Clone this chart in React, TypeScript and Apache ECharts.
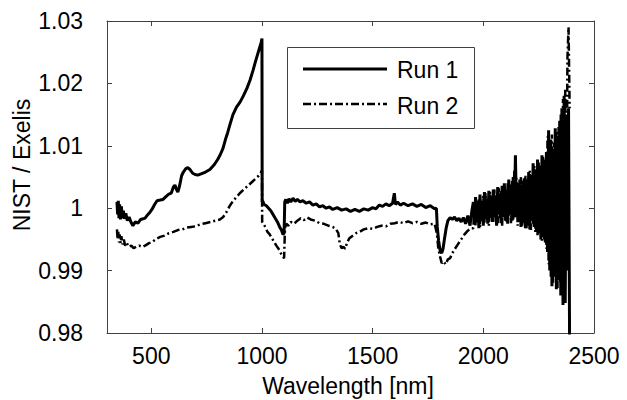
import React, { useEffect, useRef } from "react";
import * as echarts from "echarts";

// Wavelength [nm] vs NIST / Exelis ratio
const xTicks = [500, 1000, 1500, 2000, 2500];
const yTicks = [0.98, 0.99, 1.0, 1.01, 1.02, 1.03];

const run1Vnir: [number, number][] = [
  [345, 1.0010], [348, 0.9990], [351, 1.0012], [354, 0.9984], [357, 1.0006], [361, 0.9982],
  [365, 1.0003], [369, 0.9984], [374, 0.9996], [379, 0.9983], [385, 0.9992], [392, 0.9980],
  [400, 0.9986], [408, 0.9978], [417, 0.9972], [428, 0.9978], [440, 0.9976], [452, 0.9982],
  [463, 0.9983], [472, 0.9984], [485, 0.9990], [495, 0.9994], [503, 0.9998], [515, 1.0006],
  [526, 1.0012], [540, 1.0013], [553, 1.0014], [565, 1.0018], [577, 1.0022], [590, 1.0024],
  [600, 1.0034], [607, 1.0037], [614, 1.0030], [620, 1.0026], [628, 1.0036], [637, 1.0052],
  [645, 1.0058], [655, 1.0063], [665, 1.0065], [675, 1.0062], [687, 1.0056], [698, 1.0054],
  [710, 1.0053], [725, 1.0055], [745, 1.0058], [765, 1.0062], [785, 1.0070], [800, 1.0078],
  [812, 1.0086], [824, 1.0096], [835, 1.0110], [845, 1.0121], [857, 1.0136], [869, 1.0150],
  [885, 1.0162], [901, 1.0170], [916, 1.0180], [932, 1.0192], [946, 1.0205], [959, 1.0220],
  [970, 1.0234], [980, 1.0246], [990, 1.0258], [997, 1.0266], [1000, 1.0272],
];

const run1Swir1: [number, number][] = [
  [1001, 1.0010], [1003, 1.0012], [1010, 1.0006], [1020, 1.0004], [1030, 1.0000], [1040, 0.9996],
  [1050, 0.9990], [1060, 0.9984], [1070, 0.9978], [1080, 0.9970], [1088, 0.9965], [1095, 0.9958],
  [1100, 0.9960], [1103, 1.0010], [1108, 1.0014], [1115, 1.0008], [1122, 1.0015], [1130, 1.0010],
  [1140, 1.0016], [1150, 1.0011], [1160, 1.0014], [1172, 1.0010], [1185, 1.0012], [1200, 1.0008],
  [1215, 1.0010], [1230, 1.0005], [1245, 1.0007], [1260, 1.0002], [1275, 1.0004], [1290, 1.0000],
  [1305, 1.0002], [1320, 0.9998], [1340, 1.0001], [1360, 0.9997], [1380, 0.9999], [1400, 0.9995],
  [1420, 0.9998], [1440, 0.9995], [1460, 0.9999], [1480, 0.9997], [1500, 1.0001], [1515, 0.9999],
  [1530, 1.0005], [1545, 1.0003], [1560, 1.0007], [1575, 1.0004], [1590, 1.0008], [1598, 1.0024],
  [1603, 1.0006], [1612, 1.0010], [1625, 1.0005], [1640, 1.0008], [1660, 1.0004], [1680, 1.0007],
  [1700, 1.0003], [1720, 1.0006], [1740, 1.0001], [1760, 1.0004], [1780, 0.9999], [1788, 1.0000],
  [1792, 0.9970], [1798, 0.9948], [1805, 0.9932], [1812, 0.9928], [1818, 0.9935], [1825, 0.9952],
  [1832, 0.9968], [1840, 0.9980], [1850, 0.9985], [1860, 0.9982], [1870, 0.9986], [1880, 0.9980],
  [1890, 0.9984], [1900, 0.9978], [1910, 0.9985], [1920, 0.9975], [1930, 0.9988], [1940, 0.9972],
  [1948, 0.9995],
];

const run1Swir2: [number, number][] = [
  [1955, 1.0010], [1960, 0.9975], [1965, 1.0018], [1970, 0.9982], [1975, 1.0008], [1980, 0.9968],
  [1985, 1.0022], [1990, 0.9985], [1995, 1.0012], [2000, 0.9972], [2005, 1.0026], [2010, 0.9990],
  [2015, 1.0015], [2020, 0.9975], [2025, 1.0028], [2030, 0.9992], [2035, 1.0020], [2040, 0.9978],
  [2045, 1.0030], [2050, 0.9985], [2055, 1.0018], [2060, 0.9972], [2065, 1.0034], [2070, 0.9990],
  [2075, 1.0024], [2080, 0.9976], [2085, 1.0036], [2090, 0.9988], [2095, 1.0040], [2100, 0.9980],
  [2105, 1.0030], [2110, 0.9975], [2115, 1.0046], [2120, 0.9992], [2125, 1.0038], [2130, 0.9980],
  [2135, 1.0050], [2140, 0.9985], [2145, 1.0085], [2150, 0.9990], [2155, 1.0040], [2160, 0.9978],
  [2165, 1.0046], [2170, 0.9970], [2175, 1.0038], [2180, 0.9982], [2185, 1.0048], [2190, 0.9968],
  [2195, 1.0042], [2200, 0.9975], [2205, 1.0058], [2210, 0.9966], [2215, 1.0050], [2220, 0.9980],
  [2225, 1.0072], [2230, 0.9970], [2235, 1.0060], [2240, 0.9965], [2245, 1.0078], [2250, 0.9960],
  [2255, 1.0062], [2260, 0.9950], [2265, 1.0085], [2270, 0.9958], [2275, 1.0070], [2280, 0.9945],
  [2285, 1.0090], [2290, 0.9930], [2295, 1.0125], [2300, 0.9900], [2305, 1.0110], [2310, 0.9875],
  [2315, 1.0095], [2320, 0.9890], [2325, 1.0128], [2330, 0.9870], [2335, 1.0115], [2340, 0.9885],
  [2345, 1.0140], [2350, 0.9860], [2355, 1.0160], [2360, 0.9845], [2365, 1.0180], [2370, 0.9848],
  [2375, 1.0150], [2380, 0.9900], [2385, 1.0160], [2390, 0.9760],
];

const run2Vnir: [number, number][] = [
  [345, 0.9966], [348, 0.9950], [351, 0.9962], [354, 0.9945], [357, 0.9958], [361, 0.9944],
  [365, 0.9955], [370, 0.9942], [376, 0.9950], [382, 0.9940], [390, 0.9944], [398, 0.9938],
  [410, 0.9940], [420, 0.9936], [432, 0.9938], [445, 0.9940], [460, 0.9938], [472, 0.9940],
  [490, 0.9944], [505, 0.9946], [520, 0.9950], [540, 0.9954], [560, 0.9956], [580, 0.9960],
  [600, 0.9962], [620, 0.9965], [640, 0.9966], [660, 0.9969], [680, 0.9970], [700, 0.9971],
  [720, 0.9974], [745, 0.9976], [770, 0.9978], [790, 0.9980], [810, 0.9982], [825, 0.9986],
  [840, 0.9994], [855, 1.0004], [870, 1.0012], [885, 1.0018], [900, 1.0024], [918, 1.0030],
  [937, 1.0036], [955, 1.0042], [970, 1.0047], [985, 1.0052], [995, 1.0057], [1000, 1.0061],
];

const run2Swir1: [number, number][] = [
  [1001, 0.9978], [1008, 0.9974], [1015, 0.9970], [1025, 0.9962], [1035, 0.9958], [1045, 0.9952],
  [1055, 0.9946], [1065, 0.9940], [1075, 0.9935], [1085, 0.9928], [1095, 0.9922], [1100, 0.9920],
  [1104, 0.9968], [1110, 0.9975], [1120, 0.9972], [1130, 0.9978], [1145, 0.9975], [1160, 0.9980],
  [1175, 0.9984], [1190, 0.9981], [1205, 0.9985], [1220, 0.9982], [1240, 0.9980], [1260, 0.9976],
  [1280, 0.9975], [1300, 0.9972], [1320, 0.9970], [1335, 0.9966], [1345, 0.9960], [1352, 0.9942],
  [1360, 0.9936], [1368, 0.9938], [1376, 0.9935], [1385, 0.9945], [1395, 0.9952], [1410, 0.9956],
  [1425, 0.9960], [1440, 0.9962], [1460, 0.9966], [1480, 0.9968], [1500, 0.9967], [1520, 0.9970],
  [1540, 0.9972], [1560, 0.9971], [1580, 0.9975], [1600, 0.9976], [1620, 0.9978], [1640, 0.9976],
  [1660, 0.9979], [1680, 0.9976], [1700, 0.9978], [1720, 0.9975], [1740, 0.9977], [1760, 0.9974],
  [1780, 0.9975], [1790, 0.9960], [1797, 0.9935], [1805, 0.9922], [1812, 0.9912], [1820, 0.9915],
  [1830, 0.9910], [1840, 0.9918], [1850, 0.9920], [1860, 0.9928], [1870, 0.9934], [1885, 0.9942],
  [1900, 0.9950], [1915, 0.9958], [1930, 0.9964], [1945, 0.9968],
];

const run2Swir2: [number, number][] = [
  [1955, 0.9968], [1960, 1.0005], [1965, 0.9972], [1970, 1.0012], [1975, 0.9978], [1980, 1.0016],
  [1985, 0.9970], [1990, 1.0008], [1995, 0.9980], [2000, 1.0020], [2005, 0.9975], [2010, 1.0024],
  [2015, 0.9982], [2020, 1.0010], [2025, 0.9972], [2030, 1.0026], [2035, 0.9985], [2040, 1.0018],
  [2045, 0.9978], [2050, 1.0030], [2055, 0.9988], [2060, 1.0022], [2065, 0.9976], [2070, 1.0032],
  [2075, 0.9984], [2080, 1.0028], [2085, 0.9972], [2090, 1.0036], [2095, 0.9985], [2100, 1.0026],
  [2105, 0.9978], [2110, 1.0040], [2115, 0.9988], [2120, 1.0032], [2125, 0.9976], [2130, 1.0044],
  [2135, 0.9982], [2140, 1.0060], [2145, 0.9986], [2150, 1.0048], [2155, 0.9972], [2160, 1.0040],
  [2165, 0.9980], [2170, 1.0050], [2175, 0.9970], [2180, 1.0044], [2185, 0.9976], [2190, 1.0052],
  [2195, 0.9968], [2200, 1.0046], [2205, 0.9972], [2210, 1.0060], [2215, 0.9965], [2220, 1.0055],
  [2225, 0.9975], [2230, 1.0068], [2235, 0.9962], [2240, 1.0062], [2245, 0.9955], [2250, 1.0075],
  [2255, 0.9962], [2260, 1.0068], [2265, 0.9948], [2270, 1.0082], [2275, 0.9950], [2280, 1.0078],
  [2285, 0.9935], [2290, 1.0115], [2295, 0.9910], [2300, 1.0100], [2305, 0.9890], [2310, 1.0118],
  [2315, 0.9880], [2320, 1.0105], [2325, 0.9895], [2330, 1.0122], [2335, 0.9872], [2340, 1.0130],
  [2345, 0.9880], [2350, 1.0150], [2355, 0.9870], [2360, 1.0175], [2365, 0.9890], [2370, 1.0190],
  [2375, 0.9920], [2380, 1.0240], [2385, 1.0290], [2390, 1.0160],
];

const seriesNames = ["Run 1", "Run 2"];

const FONT = '"Liberation Sans", Arial, Helvetica, sans-serif';
const FS = 23;
const AXIS_COLOR = "#404040";
const DASH_DOT = [8, 3, 2, 3];

export default function App() {
  const ref = useRef<HTMLDivElement>(null);

  useEffect(() => {
    if (!ref.current) return;
    const chart = echarts.init(ref.current, null, { renderer: "svg" });
    const run1 = [...run1Vnir, ...run1Swir1, ...run1Swir2];
    const run2 = [...run2Vnir, ...run2Swir1, ...run2Swir2];

    const xBase = {
      type: "value" as const,
      min: 300,
      max: 2500,
      splitLine: { show: false },
      axisLine: { show: true, onZero: false, lineStyle: { color: AXIS_COLOR, width: 1 } },
      axisTick: { show: true, inside: true, length: 5, customValues: xTicks, lineStyle: { color: AXIS_COLOR } },
    };
    const yBase = {
      type: "value" as const,
      min: 0.98,
      max: 1.03,
      splitLine: { show: false },
      axisLine: { show: true, onZero: false, lineStyle: { color: AXIS_COLOR, width: 1 } },
      axisTick: { show: true, inside: true, length: 5, customValues: yTicks, lineStyle: { color: AXIS_COLOR } },
    };

    chart.setOption({
      animation: false,
      backgroundColor: "#ffffff",
      textStyle: { fontFamily: FONT },
      grid: { left: 107, right: 33, top: 21, bottom: 67, containLabel: false, outerBoundsMode: "none" },
      xAxis: [
        {
          ...xBase,
          position: "bottom",
          axisLabel: {
            show: true,
            customValues: xTicks,
            margin: 11,
            color: "#000",
            fontSize: FS,
            fontFamily: FONT,
            formatter: (v: number) => String(v),
          },
        },
        { ...xBase, position: "top", axisLabel: { show: false } },
      ],
      yAxis: [
        {
          ...yBase,
          position: "left",
          axisLabel: {
            show: true,
            customValues: yTicks,
            margin: 24,
            color: "#000",
            fontSize: FS,
            fontFamily: FONT,
            formatter: (v: number) => String(Number(v.toFixed(2))),
          },
        },
        { ...yBase, position: "right", axisLabel: { show: false } },
      ],
      series: [
        {
          name: seriesNames[0],
          type: "line",
          data: run1,
          symbol: "none",
          showSymbol: false,
          clip: true,
          lineStyle: { color: "#000", width: 3 },
          z: 3,
        },
        {
          name: seriesNames[1],
          type: "line",
          data: run2,
          symbol: "none",
          showSymbol: false,
          clip: true,
          lineStyle: { color: "#000", width: 2.5, type: DASH_DOT },
          z: 2,
        },
      ],
      graphic: [
        {
          type: "text",
          x: 348,
          y: 386,
          style: {
            text: "Wavelength [nm]",
            fontSize: FS,
            fontFamily: FONT,
            fill: "#000",
            align: "center",
            verticalAlign: "middle",
          },
        },
        {
          type: "text",
          x: 22,
          y: 165,
          rotation: Math.PI / 2,
          style: {
            text: "NIST / Exelis",
            fontSize: FS,
            fontFamily: FONT,
            fill: "#000",
            align: "center",
            verticalAlign: "middle",
          },
        },
        {
          type: "group",
          z: 100,
          children: [
            {
              type: "rect",
              shape: { x: 287.5, y: 47.5, width: 187, height: 81 },
              style: { fill: "#fff", stroke: AXIS_COLOR, lineWidth: 1 },
            },
            {
              type: "line",
              shape: { x1: 303, y1: 69, x2: 387, y2: 69 },
              style: { stroke: "#000", lineWidth: 3 },
            },
            {
              type: "line",
              shape: { x1: 303, y1: 104, x2: 387, y2: 104 },
              style: { stroke: "#000", lineWidth: 2.5, lineDash: DASH_DOT },
            },
            {
              type: "text",
              x: 397,
              y: 70,
              style: { text: seriesNames[0], fontSize: FS, fontFamily: FONT, fill: "#000", verticalAlign: "middle" },
            },
            {
              type: "text",
              x: 397,
              y: 106,
              style: { text: seriesNames[1], fontSize: FS, fontFamily: FONT, fill: "#000", verticalAlign: "middle" },
            },
          ],
        },
      ],
    });
    return () => chart.dispose();
  }, []);

  return (
    <div
      ref={ref}
      style={{ position: "fixed", left: 0, top: 0, width: 627, height: 400, background: "#fff" }}
    />
  );
}
